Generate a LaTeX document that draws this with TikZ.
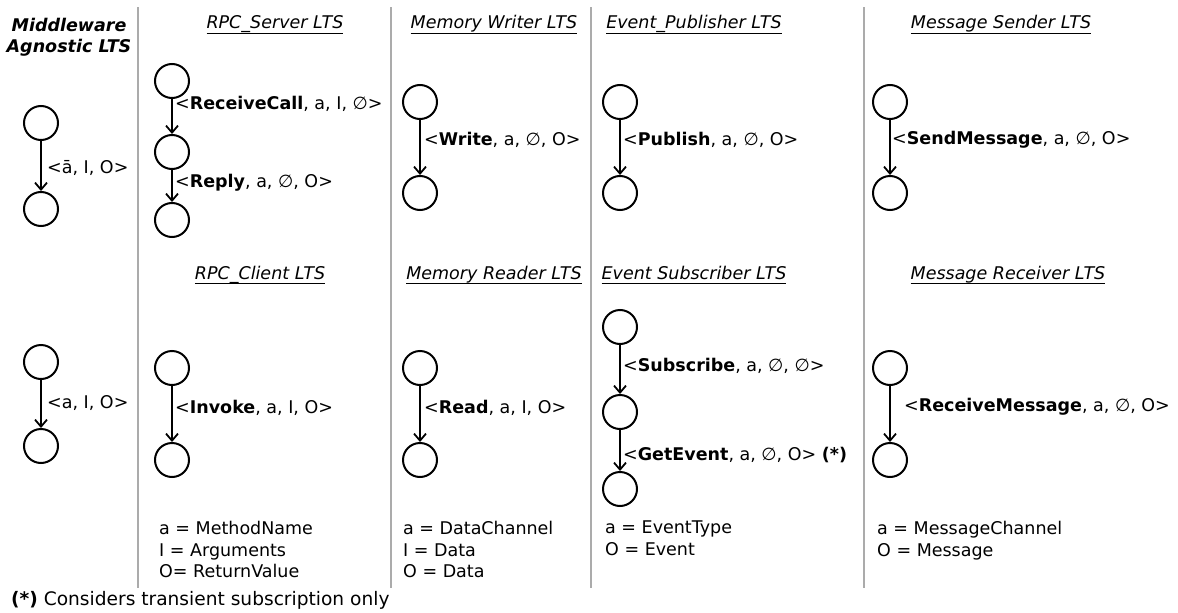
\documentclass[tikz,border=0pt]{standalone}
\usepackage{fontspec}
\setmainfont{DejaVu Sans}
\usetikzlibrary{arrows.meta}
\newsavebox{\ttlbox}
\newcommand{\ttlline}[1]{\sbox{\ttlbox}{#1}\makebox[0pt][l]{\rule[-5.3pt]{\wd\ttlbox}{1.2pt}}\usebox{\ttlbox}}
\tikzset{
  st/.style={circle,draw,line width=2pt,minimum size=34pt,inner sep=0pt},
  arr/.style={line width=2pt,-{Straight Barb[length=7pt,width=12pt,line width=1.8pt]}},
  lbl/.style={anchor=west,inner sep=0pt,font=\fontsize{17.5}{21}\selectfont},
  ttl/.style={inner sep=0pt,font=\fontsize{17.5}{21}\selectfont\itshape},
  leg/.style={anchor=north west,inner sep=0pt,align=left,font=\fontsize{17.5}{21.5}\selectfont},
  divider/.style={draw=black!33,line width=1.3pt}
}
\begin{document}
\begin{tikzpicture}[x=1pt,y=-1pt]
\useasboundingbox (0,0) rectangle (1178,613);
% dividers
\draw[divider] (138,7) coordinate (d1a) -- (138,588) coordinate (d1b);
\draw[divider] (391,7) coordinate (d2a) -- (391,588) coordinate (d2b);
\draw[divider] (591,7) coordinate (d3a) -- (591,588) coordinate (d3b);
\draw[divider] (864,7) coordinate (d4a) -- (864,588) coordinate (d4b);
% titles
\node[align=center,inner sep=0pt,font=\fontsize{17.5}{21}\selectfont\bfseries\itshape] (tmw) at (69,37) {Middleware\\Agnostic LTS};
\node[ttl] (t1) at (275,25) {\ttlline{RPC\_Server LTS}};
\node[ttl] (t2) at (494,25) {\ttlline{Memory Writer LTS}};
\node[ttl] (t3) at (694,25) {\ttlline{Event\_Publisher LTS}};
\node[ttl] (t4) at (1001,25) {\ttlline{Message Sender LTS}};
\node[ttl] (t5) at (260,275) {\ttlline{RPC\_Client LTS}};
\node[ttl] (t6) at (494,275) {\ttlline{Memory Reader LTS}};
\node[ttl] (t7) at (694,275) {\ttlline{Event Subscriber LTS}};
\node[ttl] (t8) at (1008,275) {\ttlline{Message Receiver LTS}};
% middleware agnostic top
\node[st] (m1) at (41,123) {};
\node[st] (m2) at (41,209) {};
\draw[arr] (m1) -- (m2);
\node[lbl] (lm1) at (47,168) {<ā, I, O>};
% RPC server
\node[st] (s1) at (172,81) {};
\node[st] (s2) at (172,152) {};
\node[st] (s3) at (172,220) {};
\draw[arr] (s1) -- (s2);
\draw[arr] (s2) -- (s3);
\node[lbl] (ls1) at (175,104) {<\textbf{ReceiveCall}, a, I, ∅>};
\node[lbl] (ls2) at (175,183) {<\textbf{Reply}, a, ∅, O>};
% memory writer
\node[st] (w1) at (420,102) {};
\node[st] (w2) at (420,193) {};
\draw[arr] (w1) -- (w2);
\node[lbl] (lw) at (424,140) {<\textbf{Write}, a, ∅, O>};
% event publisher
\node[st] (p1) at (620,102) {};
\node[st] (p2) at (620,193) {};
\draw[arr] (p1) -- (p2);
\node[lbl] (lp) at (623,140) {<\textbf{Publish}, a, ∅, O>};
% message sender
\node[st] (ms1) at (890,102) {};
\node[st] (ms2) at (890,193) {};
\draw[arr] (ms1) -- (ms2);
\node[lbl] (lms) at (892,140) {<\textbf{SendMessage}, a, ∅, O>};
% middleware agnostic bottom
\node[st] (n1) at (41,362) {};
\node[st] (n2) at (41,446) {};
\draw[arr] (n1) -- (n2);
\node[lbl] (ln1) at (47,403) {<a, I, O>};
% RPC client
\node[st] (c1) at (172,368) {};
\node[st] (c2) at (172,460) {};
\draw[arr] (c1) -- (c2);
\node[lbl] (lc) at (175,408) {<\textbf{Invoke}, a, I, O>};
% memory reader
\node[st] (r1) at (420,368) {};
\node[st] (r2) at (420,460) {};
\draw[arr] (r1) -- (r2);
\node[lbl] (lr) at (424,408) {<\textbf{Read}, a, I, O>};
% event subscriber
\node[st] (e1) at (620,327) {};
\node[st] (e2) at (620,412) {};
\node[st] (e3) at (620,489) {};
\draw[arr] (e1) -- (e2);
\draw[arr] (e2) -- (e3);
\node[lbl] (le1) at (623,366) {<\textbf{Subscribe}, a, ∅, ∅>};
\node[lbl] (le2) at (623,455) {<\textbf{GetEvent}, a, ∅, O> \textbf{(*)}};
% message receiver
\node[st] (mr1) at (890,368) {};
\node[st] (mr2) at (890,460) {};
\draw[arr] (mr1) -- (mr2);
\node[lbl] (lmr) at (904,407) {<\textbf{ReceiveMessage}, a, ∅, O>};
% legends
\node[leg] (g1) at (159,521) {a = MethodName\\I = Arguments\\O= ReturnValue};
\node[leg] (g2) at (403,521) {a = DataChannel\\I  = Data\\O = Data};
\node[leg] (g3) at (605,521) {a = EventType\\O = Event};
\node[leg] (g4) at (877,521) {a = MessageChannel\\O = Message};
% footnote
\node[lbl,font=\fontsize{18.6}{21}\selectfont] (fn) at (11,600) {\textbf{(*)} Considers transient subscription only};
\end{tikzpicture}
\end{document}
